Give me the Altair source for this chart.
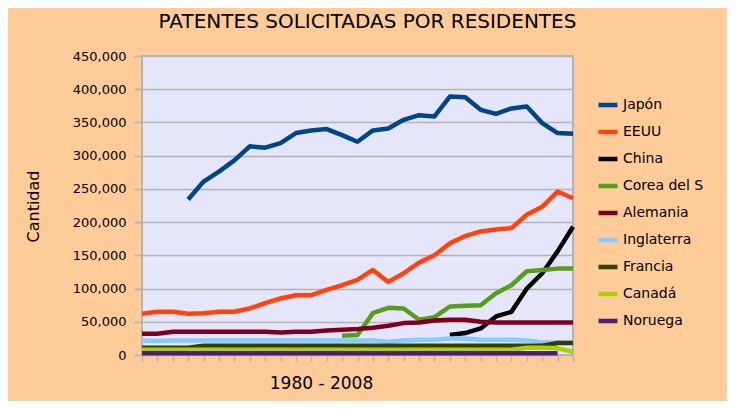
import altair as alt
import pandas as pd

years = list(range(1980, 2009))

series_names = ["Japón", "EEUU", "China", "Corea del S", "Alemania",
                "Inglaterra", "Francia", "Canadá", "Noruega"]
series_colors = ["#004586", "#ff420e", "#000000", "#579d1c", "#7e0021",
                 "#83caff", "#314004", "#aecf00", "#4b1f6f"]

japon = [None, None, None,
         234000, 261000, 276000, 293000, 314000, 312000, 319000, 334000,
         338000, 340000, 331000, 321000, 338000, 341000, 354000, 361000,
         359000, 389000, 388000, 369000, 363000, 371000, 374000, 349000,
         334000, 333000]
eeuu = [62000, 65000, 65000, 62000, 63000, 65000, 65000, 70000, 78000,
        85000, 90000, 90000, 98000, 105000, 113000, 128000, 110000, 123000,
        139000, 150000, 168000, 179000, 186000, 189000, 191000, 211000,
        223000, 246000, 236000]
china = [None] * 20 + [30000, 33000, 40000, 58000, 65000, 100000, 123000,
                       156000, 193000]
corea = [None] * 13 + [29000, 30000, 63000, 71000, 70000, 53000, 57000,
                       73000, 74000, 75000, 93000, 105000, 126000, 128000,
                       130000, 130000]
alemania = [32000, 32000, 35000, 35000, 35000, 35000, 35000, 35000, 35000,
            34000, 35000, 35000, 37000, 38000, 39000, 41000, 44000, 48000,
            49000, 52000, 53000, 53000, 50000, 49000, 49000, 49000, 49000,
            49000, 49000]
inglaterra = [22000, 21000, 22000, 22000, 22000, 22000, 22000, 22000, 22000,
              22000, 22000, 22000, 22000, 22000, 22000, 22000, 20000, 22000,
              23000, 23000, 25000, 25000, 23000, 23000, 23000, 22000, 19000,
              19000, 19000]
francia = [11000, 11000, 11000, 11000, 14000, 14000, 14000, 14000, 14000,
           14000, 14000, 14000, 14000, 14000, 14000, 14000, 14000, 14000,
           14000, 14000, 14000, 14000, 14000, 14000, 14000, 14000, 14000,
           18000, 18000]
canada = [8000, 8000, 8000, 8000, 8000, 8000, 8000, 8000, 8000, 8000, 8000,
          8000, 8000, 8000, 8000, 8000, 8000, 8000, 8000, 8000, 8000, 8000,
          8000, 8000, 8000, 11000, 11000, 10000, 5000]
noruega = [2500] * 28 + [None]

y_ticks = [0, 50000, 100000, 150000, 200000, 250000, 300000, 350000,
           400000, 450000]

all_series = [japon, eeuu, china, corea, alemania, inglaterra, francia,
              canada, noruega]

rows = []
for name, vals in zip(series_names, all_series):
    for yr, v in zip(years, vals):
        if v is not None:
            rows.append({"Año": yr, "Cantidad": v, "País": name})
df = pd.DataFrame(rows)

chart = alt.Chart(df).mark_line(strokeWidth=4.5, strokeJoin="round").encode(
    x=alt.X("Año:Q",
            scale=alt.Scale(domain=[1980, 2008], nice=False, zero=False),
            axis=alt.Axis(title="1980 - 2008", values=years, labels=False,
                          grid=False, domain=False, ticks=True, tickSize=6,
                          tickColor="#b3b3b3", tickWidth=1.5,
                          titleFont="DejaVu Sans", titleFontSize=17,
                          titleFontWeight="normal", titleColor="#000000",
                          titleX=179, titleY=28, titleAlign="center",
                          titleBaseline="middle")),
    y=alt.Y("Cantidad:Q",
            scale=alt.Scale(domain=[0, 450000], nice=False),
            axis=alt.Axis(title="Cantidad", values=y_ticks, format=",d",
                          grid=True, gridColor="#b3b3b3", gridWidth=1.5,
                          domain=False, tickSize=8, tickColor="#b3b3b3",
                          tickWidth=1.5, labelPadding=8,
                          labelFont="DejaVu Sans", labelFontSize=13,
                          labelColor="#000000",
                          titleFont="DejaVu Sans", titleFontSize=16,
                          titleFontWeight="normal", titleColor="#000000",
                          titleAngle=-90, titleX=-109, titleY=150,
                          titleAlign="center", titleBaseline="middle")),
    color=alt.Color("País:N",
                    scale=alt.Scale(domain=series_names, range=series_colors),
                    sort=series_names,
                    legend=alt.Legend(title=None, orient="none",
                                      legendX=454, legendY=37,
                                      symbolType="stroke", symbolSize=360,
                                      symbolStrokeWidth=4.5,
                                      labelFont="DejaVu Sans",
                                      labelFontSize=14, labelColor="#000000",
                                      labelOffset=3, rowPadding=6,
                                      padding=0)),
    order=alt.Order("Año:Q"),
).properties(
    width=431,
    height=299,
    title=alt.TitleParams(text="PATENTES SOLICITADAS POR RESIDENTES",
                          font="DejaVu Sans", fontSize=20,
                          fontWeight="normal", color="#000000",
                          anchor="middle", frame="group", dx=10, offset=2,
                          baseline="alphabetic"),
    background="#ffcc99",
    autosize=alt.AutoSizeParams(type="none"),
    padding={"left": 134, "top": 48, "right": 154, "bottom": 46},
).configure_view(
    fill="#e6e6fa", stroke="#b3b3b3", strokeWidth=2
)

chart.save("out.html", embed_options={"renderer": "svg", "actions": False})
